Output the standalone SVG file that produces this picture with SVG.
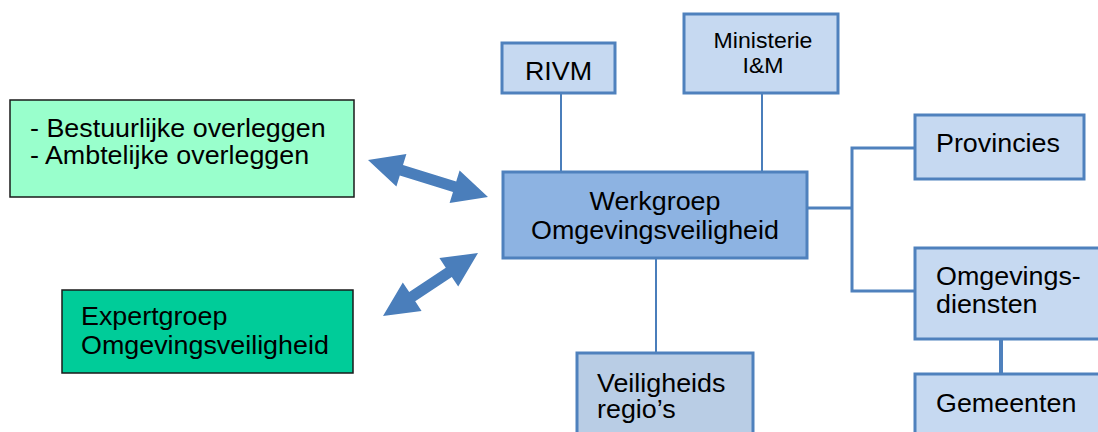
<svg xmlns="http://www.w3.org/2000/svg" width="1098" height="432" viewBox="0 0 1098 432">
<style>
.t{font-family:"Liberation Sans",Arial,sans-serif;font-size:25px;fill:#000}
.s{font-size:22px}
.blue{fill:#c6d9f1;stroke:#4f81bd;stroke-width:3}
.dark{fill:#8db3e2;stroke:#4f81bd;stroke-width:3}
.vr{fill:#b9cde5;stroke:#4f81bd;stroke-width:3}
.green1{fill:#99ffcc;stroke:#1a1a1a;stroke-width:1.5}
.green2{fill:#00cc99;stroke:#1a1a1a;stroke-width:1.5}
.thin{stroke:#4a7ebb;stroke-width:2;fill:none}
.mid{stroke:#4f81bd;stroke-width:3;fill:none}
.thick{stroke:#4f81bd;stroke-width:4;fill:none}
.arr{fill:#4a7ebb}
</style>
<rect width="1098" height="432" fill="#fff"/>
<g id="connectors">
<line class="thin" x1="561" y1="93" x2="561" y2="172"/>
<line class="thin" x1="762" y1="93" x2="762" y2="172"/>
<line class="thin" x1="656" y1="258" x2="656" y2="353"/>
<polyline class="mid" points="807,208 852,208"/>
<polyline class="mid" points="915,148 852,148 852,291 915,291"/>
<line class="thick" x1="1001" y1="339" x2="1001" y2="374"/>
<polygon class="arr" points="368,160 406.4,154.1 403,165 456.2,181.4 459.6,170.5 488,197 449.6,202.9 453,192 399.8,175.6 396.4,186.5"/>
<polygon class="arr" points="383,316 402.8,282.5 409.2,292.1 445.8,267.7 439.4,258.1 478,253 458.2,286.5 451.8,276.9 415.2,301.3 421.6,310.9"/>
</g>
<g id="overleggen">
<rect class="green1" x="10" y="100" width="344" height="97"/>
<text class="t" transform="translate(30 137) scale(1.075 1)"><tspan x="0" y="0">- Bestuurlijke overleggen</tspan><tspan x="0" y="27">- Ambtelijke overleggen</tspan></text>
</g>
<g id="expertgroep">
<rect class="green2" x="62" y="290" width="291" height="83"/>
<text class="t" transform="translate(81 325) scale(1.075 1)"><tspan x="0" y="0">Expertgroep</tspan><tspan x="0" y="29">Omgevingsveiligheid</tspan></text>
</g>
<g id="rivm">
<rect class="blue" x="502" y="43" width="113" height="50"/>
<text class="t" text-anchor="middle" transform="translate(558.5 80) scale(1.075 1)">RIVM</text>
</g>
<g id="ministerie">
<rect class="blue" x="684" y="14" width="154" height="79"/>
<text class="t s" text-anchor="middle" transform="translate(763 48) scale(1.05 1)"><tspan x="0" y="0">Ministerie</tspan><tspan x="0" y="25">I&amp;M</tspan></text>
</g>
<g id="werkgroep">
<rect class="dark" x="503" y="172" width="304" height="86"/>
<text class="t" text-anchor="middle" transform="translate(655 210) scale(1.075 1)"><tspan x="0" y="0">Werkgroep</tspan><tspan x="0" y="29">Omgevingsveiligheid</tspan></text>
</g>
<g id="provincies">
<rect class="blue" x="915" y="115" width="169" height="64"/>
<text class="t" transform="translate(936 152) scale(1.075 1)">Provincies</text>
</g>
<g id="omgevingsdiensten">
<rect class="blue" x="915" y="248" width="190" height="91"/>
<text class="t" transform="translate(936 285) scale(1.075 1)"><tspan x="0" y="0">Omgevings-</tspan><tspan x="0" y="28">diensten</tspan></text>
</g>
<g id="gemeenten">
<rect class="blue" x="915" y="374" width="190" height="70"/>
<text class="t" transform="translate(936 412) scale(1.075 1)">Gemeenten</text>
</g>
<g id="veiligheidsregios">
<rect class="vr" x="577" y="353" width="176" height="90"/>
<text class="t" transform="translate(597 392) scale(1.075 1)"><tspan x="0" y="0">Veiligheids</tspan><tspan x="0" y="26">regio’s</tspan></text>
</g>
</svg>
